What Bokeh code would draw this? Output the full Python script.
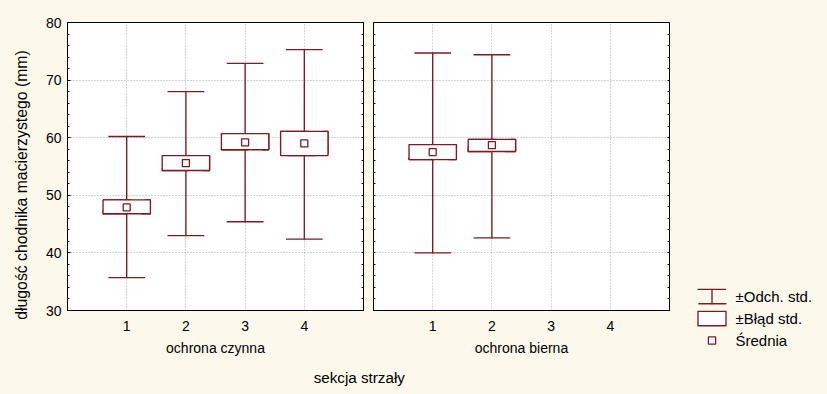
import numpy as np
from bokeh.plotting import figure
from bokeh.layouts import row, column
from bokeh.models import (ColumnDataSource, Range1d, LinearAxis, FixedTicker,
                          SingleIntervalTicker, Legend, LegendItem, Label,
                          GlobalInlineStyleSheet)
from bokeh.embed import file_html
from bokeh.resources import INLINE

CREAM = "#FCF8EC"
RED = "#7F1A1E"
FONT = "Liberation Sans"
LW = 1.35

# ---------------- data ----------------
x_ticks = [1, 2, 3, 4]
x_tick_labels = ["1", "2", "3", "4"]
y_ticks = [30, 40, 50, 60, 70, 80]
group_labels = ["ochrona czynna", "ochrona bierna"]
x_axis_title = "sekcja strzały"
y_axis_title = "długość chodnika macierzystego (mm)"
legend_labels = ["±Odch. std.", "±Błąd std.", "Średnia"]

czynna_sections = [1, 2, 3, 4]
czynna_mean = [47.9, 55.6, 59.2, 59.0]
czynna_se_low = [46.8, 54.3, 57.9, 56.9]
czynna_se_high = [49.2, 56.9, 60.7, 61.1]
czynna_sd_low = [35.7, 43.0, 45.4, 42.4]
czynna_sd_high = [60.2, 68.0, 72.9, 75.3]

bierna_sections = [1, 2]
bierna_mean = [57.5, 58.7]
bierna_se_low = [56.2, 57.6]
bierna_se_high = [58.8, 59.7]
bierna_sd_low = [40.0, 42.6]
bierna_sd_high = [74.7, 74.4]

BOX_HALF = 0.4
CAP_HALF = 0.31
TOTAL_H = 394
ROW_H = 360
YL_W = 34
LEG_W = 153
minor_y = [float(v) for v in np.arange(y_ticks[0], y_ticks[-1] + 1, 2)]

STEM = dict(fill_color=None, line_color=RED, line_width=LW)
CAPS = dict(fill_alpha=0, line_color=RED, line_width=LW, line_dash="28 14")
BOX = dict(fill_color="white", line_color=RED, line_width=LW)
MEAN = dict(marker="square", size=7, fill_color="white", line_color=RED, line_width=1.3)


def make_source(sections, mean, se_lo, se_hi, sd_lo, sd_hi):
    return ColumnDataSource(dict(
        x=sections, mean=mean, se_lo=se_lo, se_hi=se_hi, sd_lo=sd_lo, sd_hi=sd_hi,
        sd_mid=[(a + b) / 2 for a, b in zip(sd_lo, sd_hi)],
        sd_len=[b - a for a, b in zip(sd_lo, sd_hi)],
        left=[s - BOX_HALF for s in sections], right=[s + BOX_HALF for s in sections],
        c0=[s - CAP_HALF for s in sections], c1=[s + CAP_HALF for s in sections],
    ))


def draw_series(p, src, with_caps_segments=True):
    stem = p.ellipse(x="x", y="sd_mid", width=0.0001, height="sd_len", source=src, **STEM)
    if with_caps_segments:
        p.segment(x0="c0", x1="c1", y0="sd_hi", y1="sd_hi", source=src, line_color=RED, line_width=LW)
        p.segment(x0="c0", x1="c1", y0="sd_lo", y1="sd_lo", source=src, line_color=RED, line_width=LW)
    caps = p.quad(left="left", right="right", bottom="se_lo", top="se_hi", source=src, **CAPS)
    box = p.quad(left="left", right="right", bottom="se_lo", top="se_hi", source=src, **BOX)
    mean_r = p.scatter(x="x", y="mean", source=src, **MEAN)
    return caps, stem, box, mean_r


def tick_only_axis(p, side):
    ax = LinearAxis(ticker=FixedTicker(ticks=[], minor_ticks=minor_y),
                    major_tick_out=0, major_tick_in=0, minor_tick_out=0, minor_tick_in=2,
                    axis_line_color="black", minor_tick_line_color="black")
    p.add_layout(ax, side)


def panel(src, label, width, bl, br, show_y_labels):
    p = figure(width=width, height=ROW_H, x_range=Range1d(0, 5), y_range=Range1d(30, 80),
               output_backend="svg", toolbar_location=None,
               y_axis_location="left" if show_y_labels else None,
               min_border_left=bl, min_border_right=br, min_border_top=22,
               min_border_bottom=ROW_H - 22 - 288,
               background_fill_color="white", border_fill_color=CREAM,
               outline_line_color="black", outline_line_width=1, outline_line_alpha=1)
    yt = SingleIntervalTicker(interval=10, num_minor_ticks=5)
    xt = FixedTicker(ticks=x_ticks, minor_ticks=[])
    p.xaxis.ticker = xt
    p.ygrid.ticker = yt
    p.xgrid.ticker = xt
    for g in (p.xgrid, p.ygrid):
        g.grid_line_color = "#A8A8A8"
        g.grid_line_dash = "1 2"
        g.grid_line_width = 1
    ax = p.xaxis[0]
    ax.major_label_overrides = {t: s for t, s in zip(x_ticks, x_tick_labels)}
    ax.axis_label = label
    ax.axis_label_text_font = FONT
    ax.axis_label_text_font_size = "14px"
    ax.axis_label_text_font_style = "normal"
    ax.axis_label_text_color = "black"
    ax.axis_label_standoff = 6
    ax.major_label_text_font = FONT
    ax.major_label_text_font_size = "14px"
    ax.major_label_text_color = "black"
    ax.major_label_standoff = 10
    ax.major_tick_out = 0
    ax.major_tick_in = 0
    ax.axis_line_color = "black"
    if show_y_labels:
        ay = p.yaxis[0]
        ay.ticker = yt
        ay.major_tick_out = 0
        ay.major_tick_in = 3
        ay.minor_tick_out = 0
        ay.minor_tick_in = 2
        ay.axis_line_color = "black"
        ay.major_tick_line_color = "black"
        ay.minor_tick_line_color = "black"
        ay.major_label_text_font = FONT
        ay.major_label_text_font_size = "14px"
        ay.major_label_text_color = "black"
        ay.major_label_standoff = 6
    else:
        tick_only_axis(p, "left")
    tick_only_axis(p, "right")
    draw_series(p, src)
    return p


src1 = make_source(czynna_sections, czynna_mean, czynna_se_low, czynna_se_high,
                   czynna_sd_low, czynna_sd_high)
src2 = make_source(bierna_sections, bierna_mean, bierna_se_low, bierna_se_high,
                   bierna_sd_low, bierna_sd_high)

P1_W = 67 - YL_W + 296 + 5
P2_W = 5 + 296 + 5
p1 = panel(src1, group_labels[0], P1_W, 67 - YL_W, 5, True)
p2 = panel(src2, group_labels[1], P2_W, 5, 5, False)


def text_fig(width, height, xr=(0, 1), yr=(0, 1)):
    return figure(width=width, height=height, x_range=Range1d(*xr), y_range=Range1d(*yr),
                  output_backend="svg", toolbar_location=None, x_axis_type=None, y_axis_type=None,
                  min_border=0, outline_line_color=None, background_fill_color=CREAM,
                  border_fill_color=CREAM)


# y-axis title
ylab = text_fig(YL_W, TOTAL_H)
ylab.add_layout(Label(x=21, y=TOTAL_H - 184.5, x_units="screen", y_units="screen", text=y_axis_title,
                      angle=90, angle_units="deg", text_align="center", text_baseline="middle",
                      text_font=FONT, text_font_size="15.8px", text_color="black"))

# common x title
strip = text_fig(P1_W + P2_W, TOTAL_H - ROW_H)
strip.add_layout(Label(x=358.8 - YL_W, y=TOTAL_H - 377.4, x_units="screen", y_units="screen",
                       text=x_axis_title, text_align="center", text_baseline="middle",
                       text_font=FONT, text_font_size="15.2px", text_color="black"))

# legend panel (legend glyph proxies are kept outside the visible range)
legfig = text_fig(LEG_W, TOTAL_H, xr=(-10, -9), yr=(-10, -9))
lc, ls, lb, lm = draw_series(legfig, src2, with_caps_segments=False)
legend = Legend(items=[
    LegendItem(label=legend_labels[0], renderers=[lc, ls]),
    LegendItem(label=legend_labels[1], renderers=[lb]),
    LegendItem(label=legend_labels[2], renderers=[lm]),
], location=(693.5 - (YL_W + P1_W + P2_W), TOTAL_H - 287 - 62), glyph_width=35, glyph_height=18,
    label_height=18, spacing=4, padding=0, margin=0, border_line_color=None,
    background_fill_alpha=0, label_text_font=FONT, label_text_font_size="15px",
    label_text_color="black", label_standoff=7)
legfig.add_layout(legend)

layout = row(ylab, column(row(p1, p2), strip), legfig,
             stylesheets=[GlobalInlineStyleSheet(css="html, body { background-color: %s; }" % CREAM)])

open("out.html", "w").write(file_html(layout, INLINE))
